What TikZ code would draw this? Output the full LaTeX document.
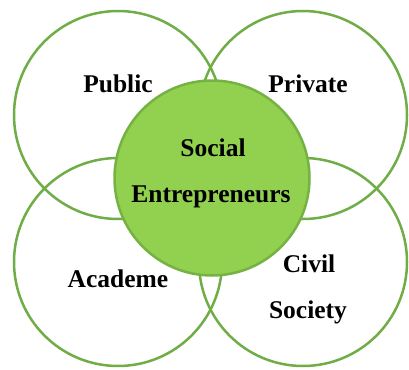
\documentclass[tikz,border=0pt]{standalone}
\usepackage{fontspec}
\setmainfont{Liberation Serif}
\definecolor{ring}{HTML}{70AD47}
\definecolor{core}{HTML}{92D050}
\definecolor{coreline}{HTML}{76B144}
\begin{document}
\begin{tikzpicture}[x=1pt,y=-1pt,
  sector/.style={circle,draw=ring,line width=2.5pt,minimum size=208pt,inner sep=0pt},
  hub/.style={circle,draw=coreline,fill=core,line width=2.5pt,minimum size=195pt,inner sep=0pt},
  lbl/.style={font=\fontsize{25.5}{30}\selectfont\bfseries,inner sep=0pt,anchor=base}]
\useasboundingbox (0,0) rectangle (409,369);
\node[sector] (pub) at (118,115) {};
\node[sector] (pri) at (303,115) {};
\node[sector] (aca) at (118,262) {};
\node[sector] (civ) at (303,262) {};
\node[hub] (soc) at (212,178) {};
\node[lbl] (tpub) at (118,92) {Public};
\node[lbl] (tpri) at (308,92) {Private};
\node[lbl] (tsoc) at (213,156) {Social};
\node[lbl] (tent) at (211,202) {Entrepreneurs};
\node[lbl] (taca) at (118,287) {Academe};
\node[lbl] (tciv) at (309,272) {Civil};
\node[lbl] (tsoy) at (308,318) {Society};
\end{tikzpicture}
\end{document}
